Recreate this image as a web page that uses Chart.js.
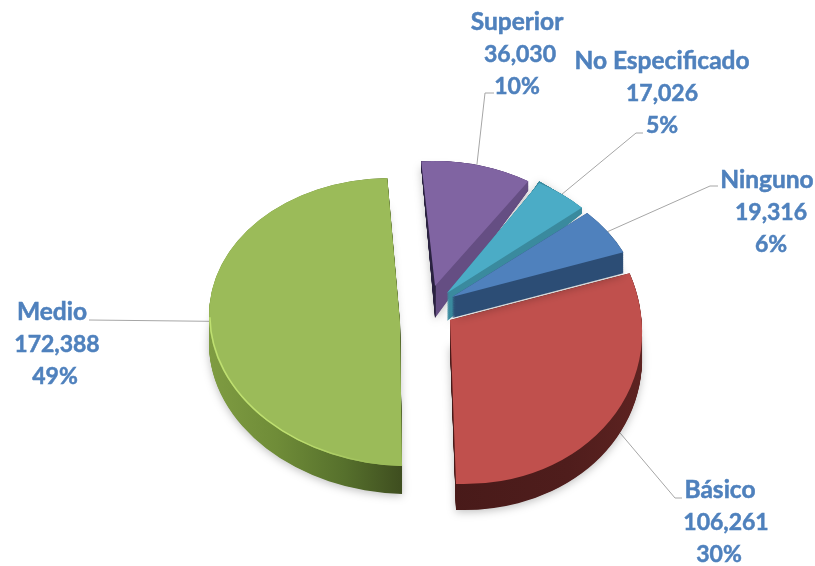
<!DOCTYPE html>
<html>
<head>
<meta charset="utf-8">
<title>Nivel educativo</title>
<script src="https://cdn.jsdelivr.net/npm/chart.js@4"></script>
<style>
  html, body { margin: 0; padding: 0; background: #fff; }
  #wrap { width: 815px; height: 566px; }
  canvas { filter: blur(0.4px); }
</style>
</head>
<body>
<div id="wrap"><canvas id="pie-chart" width="815" height="566"></canvas></div>
<script>
// datos
const categories = ['Ninguno', 'Básico', 'Medio', 'Superior', 'No Especificado'];
const values = [19316, 106261, 172388, 36030, 17026];
const colors = ['#4F81BD', '#C0504D', '#9BBB59', '#8064A2', '#4BACC6'];

const LABEL_COLOR = '#4F81BD';
const LEADER_COLOR = '#A6A6A6';
const NAME_FONT = 'bold 24.5px Lato';
const NUMBER_FONT = 'bold 23px Lato';
const LINE_HEIGHT = 32.5;
const R = 100;

// pie "3D": each slice has its own affine placement (perspective look),
// o = apex, u/v = where the unit x/y go, d = depth at apex, k = stretch of bottom face
// label = x of each of the three text lines, then y of the first one
const slices = {
  'Ninguno': { o: [452, 297], u: [187, -3], v: [18, 131], d: 21, k: 1,
    wallX: [430, 640], wall: [[0, '#2C4D75'], [1, '#2C4D75']],
    label: [767, 771, 771, 180], bend: [[710, 186], [718, 186]] },
  'Básico': { o: [450, 320], u: [192, 6], v: [7, 164], d: 26, k: 1,
    wallX: [450, 645], wall: [[0, '#481A19'], [0.6, '#4F1D1C'], [1, '#5E2321']],
    label: [720, 726, 719, 490], bend: [[675, 498], [682, 498]] },
  'Medio': { o: [400, 322], u: [191, 4], v: [3, 144], d: 28, k: 1,
    wallX: [209, 403], wall: [[0, '#7F9C42'], [0.35, '#6F8C38'], [0.7, '#56702C'], [1, '#3E4D1F']],
    edge: '#BFE070',
    label: [52, 57, 55, 312], bend: [[89, 320]] },
  'Superior': { o: [435, 286], u: [174, -2], v: [5, 125], d: 32, k: 1.22,
    wallX: [421, 600], wall: [[0, '#2A2240'], [0.08, '#2A2240'], [0.085, '#654E83'], [1, '#654E83']],
    label: [517, 520, 517, 22], bend: [[485, 93], [494, 93]] },
  'No Especificado': { o: [447, 293], u: [181, -7], v: [11, 128], d: 28, k: 1.28,
    wallX: [430, 640], wall: [[0, '#3A8A9E'], [1, '#3A8A9E']],
    label: [662, 662, 662, 61], bend: [[636, 133], [643, 133]] }
};
const drawOrder = ['Medio', 'Superior', 'No Especificado', 'Básico', 'Ninguno'];

function faceTransform(ctx, arc, s, t) {
  // t = 0 top face, t = 1 bottom face
  const oy = s.o[1] + s.d * t;
  const vy = s.v[1] * (1 + (s.k - 1) * t);
  ctx.transform(s.u[0] / R, s.u[1] / R, s.v[0] / R, vy / R, s.o[0], oy);
  ctx.translate(-arc.x, -arc.y);
}

function drawWall(ctx, arc, s) {
  const steps = Math.ceil(s.d * 1.5);
  const g = ctx.createLinearGradient(s.wallX[0], 0, s.wallX[1], 0);
  s.wall.forEach(st => g.addColorStop(st[0], st[1]));
  for (let i = steps; i >= 0; i--) {
    ctx.save();
    faceTransform(ctx, arc, s, i / steps);
    ctx.beginPath();
    ctx.moveTo(arc.x, arc.y);
    ctx.arc(arc.x, arc.y, arc.outerRadius, arc.startAngle, arc.endAngle);
    ctx.closePath();
    ctx.restore();
    ctx.save();
    ctx.fillStyle = g;
    if (i === steps) {
      ctx.shadowColor = 'rgba(0,0,0,0.25)';
      ctx.shadowBlur = 9;
      ctx.shadowOffsetY = 2;
    }
    ctx.fill();
    ctx.restore();
  }
}

// thin lighter line along the lower rim of the top face
function drawEdge(ctx, arc, s) {
  if (!s.edge) return;
  ctx.save();
  faceTransform(ctx, arc, s, 0);
  ctx.beginPath();
  ctx.arc(arc.x, arc.y, arc.outerRadius - 0.5, arc.startAngle, arc.startAngle + Math.PI / 2);
  ctx.restore();
  const g = ctx.createLinearGradient(s.wallX[0], 0, s.wallX[1], 0);
  g.addColorStop(0, s.edge);
  g.addColorStop(0.45, s.edge);
  g.addColorStop(0.85, colors[2]);
  ctx.save();
  ctx.strokeStyle = g;
  ctx.lineWidth = 1.5;
  ctx.stroke();
  ctx.restore();
}

function midPoint(arc, s) {
  const a = (arc.startAngle + arc.endAngle) / 2;
  const c = Math.cos(a), n = Math.sin(a);
  return [s.o[0] + c * s.u[0] + n * s.v[0], s.o[1] + c * s.u[1] + n * s.v[1]];
}

const pie3d = {
  id: 'pie3d',
  beforeDatasetsDraw(chart) {
    const ctx = chart.ctx;
    const arcs = chart.getDatasetMeta(0).data;

    // leader lines first, the slices cover their inner end
    ctx.save();
    ctx.strokeStyle = LEADER_COLOR;
    ctx.lineWidth = 1;
    categories.forEach((c, i) => {
      const s = slices[c];
      const p = midPoint(arcs[i], s);
      ctx.beginPath();
      ctx.moveTo(p[0], p[1]);
      s.bend.forEach(b => ctx.lineTo(b[0], b[1]));
      ctx.stroke();
    });
    ctx.restore();

    drawOrder.forEach(c => {
      const i = categories.indexOf(c);
      const s = slices[c];
      const arc = arcs[i];
      drawWall(ctx, arc, s);
      ctx.save();
      faceTransform(ctx, arc, s, 0);
      arc.draw(ctx);
      ctx.restore();
      drawEdge(ctx, arc, s);
    });
    return false; // slices are already drawn
  },
  afterDraw(chart) {
    const ctx = chart.ctx;
    const total = values.reduce((a, b) => a + b, 0);
    ctx.save();
    ctx.fillStyle = LABEL_COLOR;
    ctx.strokeStyle = LABEL_COLOR;
    ctx.lineWidth = 0.5;
    ctx.textAlign = 'center';
    ctx.textBaseline = 'middle';
    categories.forEach((c, i) => {
      const pos = slices[c].label;
      const lines = [c, values[i].toLocaleString('en-US'), Math.round(values[i] / total * 100) + '%'];
      lines.forEach((t, j) => {
        ctx.font = j === 0 ? NAME_FONT : NUMBER_FONT;
        ctx.fillText(t, pos[j], pos[3] + j * LINE_HEIGHT);
        ctx.strokeText(t, pos[j], pos[3] + j * LINE_HEIGHT);
      });
    });
    ctx.restore();
  }
};

new Chart(document.getElementById('pie-chart'), {
  type: 'pie',
  data: {
    labels: categories,
    datasets: [{
      data: values,
      backgroundColor: colors,
      borderWidth: 0
    }]
  },
  options: {
    responsive: false,
    animation: false,
    rotation: 51.5,
    radius: R,
    plugins: {
      legend: { display: false },
      tooltip: { enabled: false }
    }
  },
  plugins: [pie3d]
});
</script>
</body>
</html>
